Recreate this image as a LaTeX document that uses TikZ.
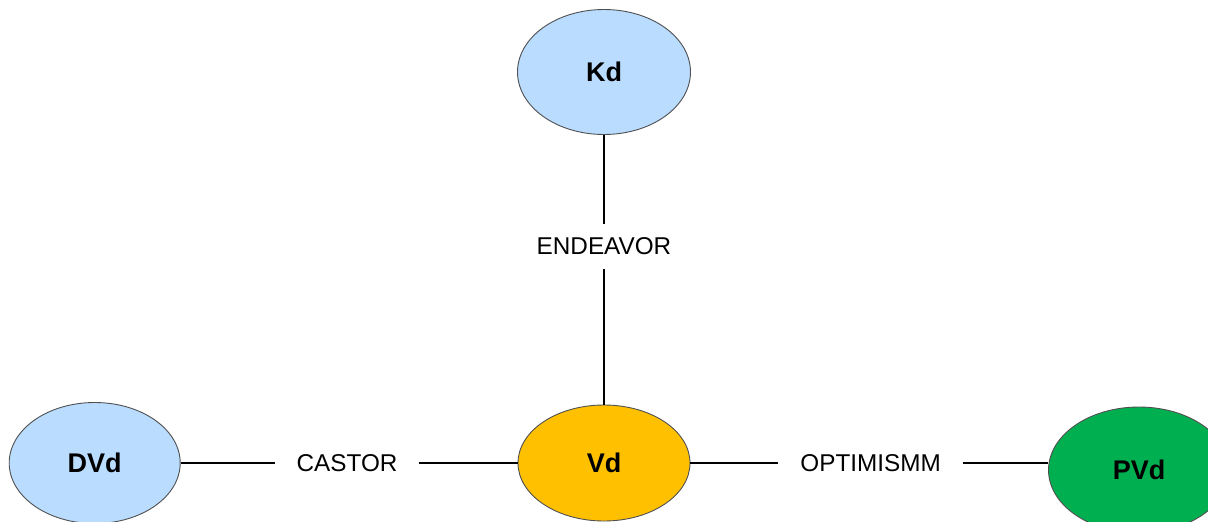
\documentclass[tikz,border=0pt]{standalone}
\usepackage{fontspec}
\setmainfont{Liberation Sans}
\usetikzlibrary{shapes.geometric}
\definecolor{lblue}{RGB}{185,220,255}
\definecolor{gold}{RGB}{255,192,0}
\definecolor{grn}{RGB}{0,176,80}
\definecolor{edgegray}{RGB}{80,80,80}
\tikzset{
  ent/.style={ellipse, draw=edgegray, line width=0.9pt, inner sep=0pt,
    font=\fontsize{27}{30}\selectfont\bfseries},
  lbl/.style={fill=white, inner xsep=22pt, inner ysep=0pt, minimum height=45pt,
    font=\fontsize{24.3}{28}\selectfont},
  conn/.style={line width=1.6pt, black}
}
\begin{document}
\begin{tikzpicture}[x=1pt, y=-1pt]
\useasboundingbox (0,0) rectangle (1208,522);
\node[ent, fill=lblue, minimum width=173pt, minimum height=125pt] (Kd) at (604,72) {Kd};
\node[ent, fill=gold, minimum width=172pt, minimum height=116pt] (Vd) at (604,463) {Vd};
\node[ent, fill=lblue, minimum width=171pt, minimum height=121pt] (DVd) at (94.7,463) {DVd};
\node[ent, fill=grn, minimum width=181pt, minimum height=126pt] (PVd) at (1139,470) {PVd};
\draw[conn] (Kd.south) -- node[lbl, pos=0.413] (lE) {ENDEAVOR} (Vd.north);
\draw[conn] (DVd.east) -- node[lbl, pos=0.494] (lC) {CASTOR} (Vd.west);
\draw[conn] (Vd.east) -- node[lbl, pos=0.504] (lO) {OPTIMISMM} (Vd.east -| PVd.west);
\end{tikzpicture}
\end{document}
